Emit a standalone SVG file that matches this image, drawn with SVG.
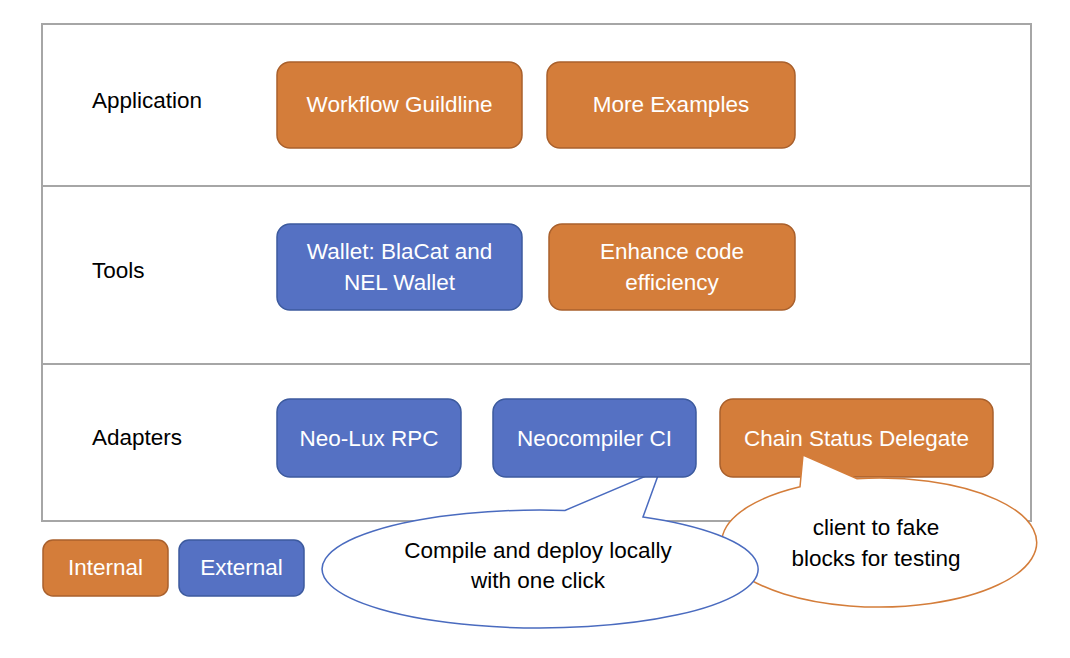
<svg xmlns="http://www.w3.org/2000/svg" width="1070" height="658" viewBox="0 0 1070 658">
<style>
.lbl{font-family:"Liberation Sans",Arial,sans-serif;font-size:22.5px;fill:#000}
.btxt{font-family:"Liberation Sans",Arial,sans-serif;font-size:22.5px;fill:#fff;text-anchor:middle}
.ctxt{font-family:"Liberation Sans",Arial,sans-serif;font-size:22.5px;fill:#000;text-anchor:middle}
.int{fill:#D47D3A;stroke:#A9602C;stroke-width:1.5}
.ext{fill:#5571C3;stroke:#3C5A9E;stroke-width:1.5}
.frame{fill:none;stroke:#A6A6A6;stroke-width:2}
</style>
<rect width="1070" height="658" fill="#fff"/>
<g id="frame">
<rect class="frame" x="42" y="24" width="989" height="497"/>
<line class="frame" x1="42" y1="186" x2="1031" y2="186"/>
<line class="frame" x1="42" y1="364" x2="1031" y2="364"/>
</g>
<g id="layer-labels">
<text class="lbl" x="92" y="108">Application</text>
<text class="lbl" x="92" y="278">Tools</text>
<text class="lbl" x="92" y="445">Adapters</text>
</g>
<g id="workflow">
<rect class="int" x="277" y="62" width="245" height="86" rx="13"/>
<text class="btxt" x="399.5" y="112">Workflow Guildline</text>
</g>
<g id="more-examples">
<rect class="int" x="547" y="62" width="248" height="86" rx="13"/>
<text class="btxt" x="671" y="112">More Examples</text>
</g>
<g id="wallet">
<rect class="ext" x="277" y="224" width="245" height="86" rx="13"/>
<text class="btxt" x="399.5" y="259">Wallet: BlaCat and</text>
<text class="btxt" x="399.5" y="290">NEL Wallet</text>
</g>
<g id="enhance">
<rect class="int" x="549" y="224" width="246" height="86" rx="13"/>
<text class="btxt" x="672" y="259">Enhance code</text>
<text class="btxt" x="672" y="290">efficiency</text>
</g>
<g id="neolux">
<rect class="ext" x="277" y="399" width="184" height="78" rx="13"/>
<text class="btxt" x="369" y="446">Neo-Lux RPC</text>
</g>
<g id="chain-status">
<rect class="int" x="720" y="399" width="273" height="78" rx="13"/>
<text class="btxt" x="856.5" y="446">Chain Status Delegate</text>
</g>
<g id="callout-chain">
<path d="M857 478.7 A157.5 64.5 0 1 1 800 486.8 L803 455 Z" fill="#fff" stroke="#D47D3A" stroke-width="1.5"/>
<text class="ctxt" x="876" y="535">client to fake</text>
<text class="ctxt" x="876" y="566">blocks for testing</text>
</g>
<g id="callout-compiler">
<path d="M643 517 A218 59 0 1 1 565 510.4 L660 470 Z" fill="#fff" stroke="#4A6BBF" stroke-width="1.5"/>
<text class="ctxt" x="538" y="558">Compile and deploy locally</text>
<text class="ctxt" x="538" y="588">with one click</text>
</g>
<g id="neocompiler">
<rect class="ext" x="493" y="399" width="203" height="78" rx="13"/>
<text class="btxt" x="594.5" y="446">Neocompiler CI</text>
</g>
<g id="legend-internal">
<rect class="int" x="43" y="540" width="125" height="56" rx="10"/>
<text class="btxt" x="105.5" y="575">Internal</text>
</g>
<g id="legend-external">
<rect class="ext" x="179" y="540" width="125" height="56" rx="10"/>
<text class="btxt" x="241.5" y="575">External</text>
</g>
<g id="connectors"/>
</svg>
